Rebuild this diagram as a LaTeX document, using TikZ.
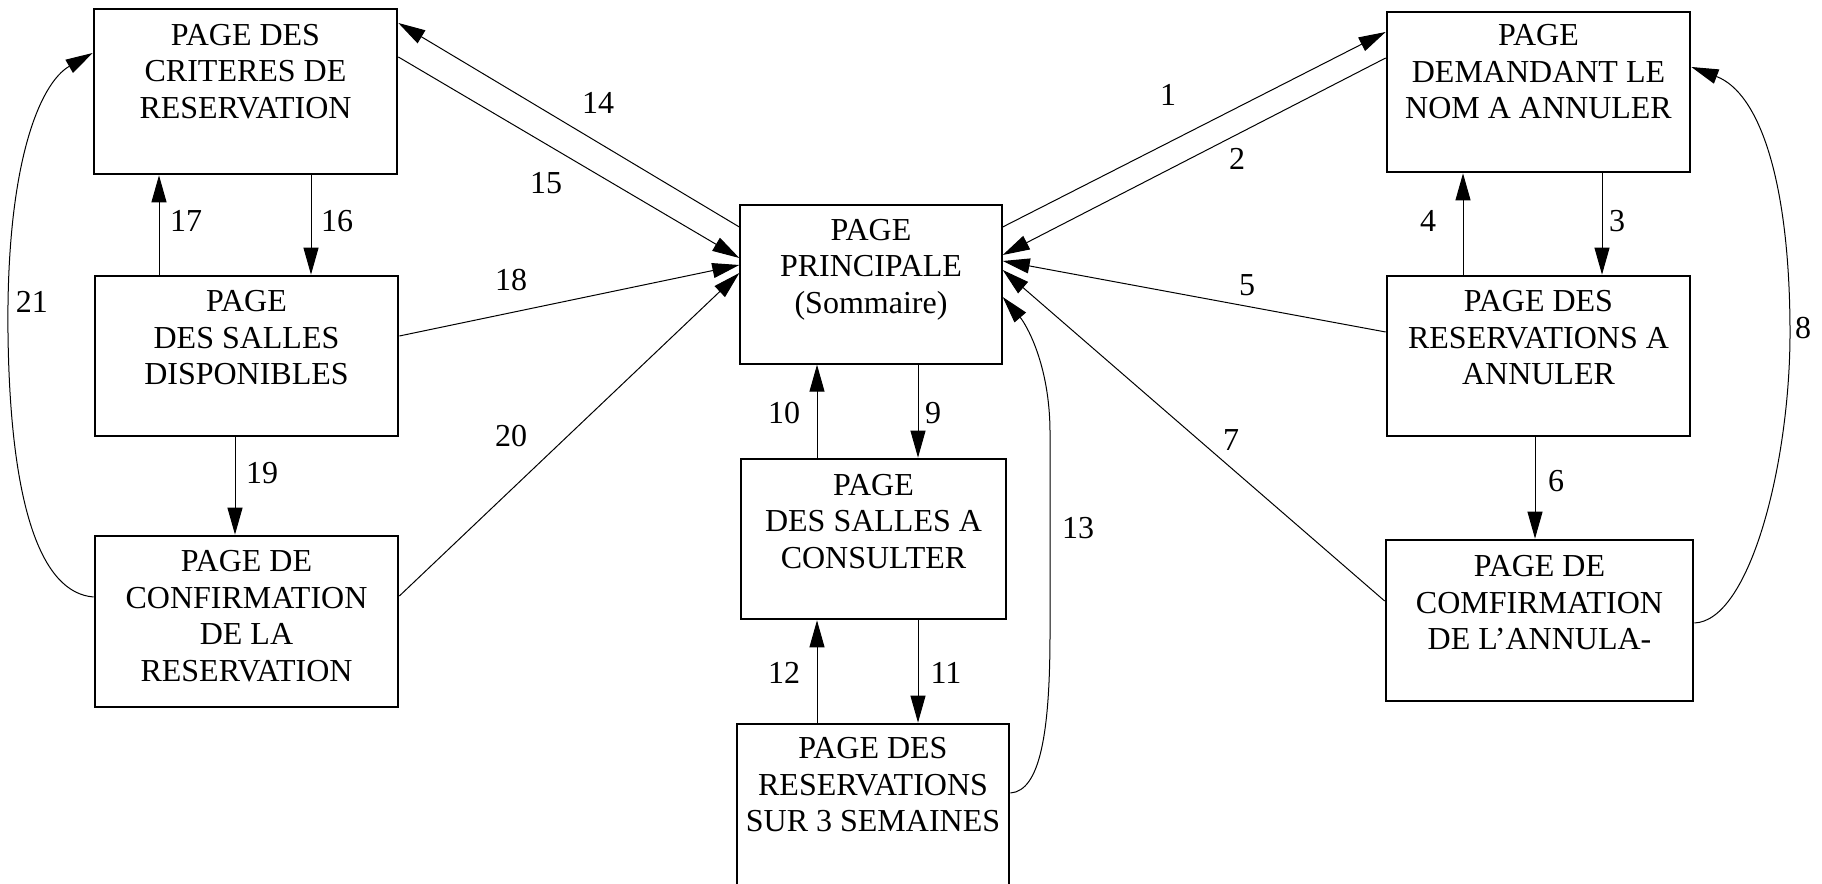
\documentclass[tikz,border=0pt]{standalone}
\usepackage{fontspec}
\setmainfont{Liberation Serif}
\usetikzlibrary{arrows.meta,calc}
\begin{document}
\begin{tikzpicture}[x=1pt,y=1pt,
  box/.style={draw, line width=2.7pt, inner sep=0pt},
  thinbox/.style={draw, line width=1.4pt, inner sep=0pt},
  txt/.style={align=center, inner sep=0pt, anchor=north, font=\fontsize{32}{36.5}\selectfont},
  arr/.style={line width=1pt, -{Triangle[length=27pt,width=15pt]}},
  lbl/.style={inner sep=0pt, font=\fontsize{32}{36.5}\selectfont}]
\useasboundingbox (0,0) rectangle (1822,883);
\clip (0,0) rectangle (1822,883);
\fill[white] (0,0) rectangle (1822,883);

% boxes
\node[box, minimum width=303pt, minimum height=165pt] (crit) at (245.5,791.5) {};
\node[box, minimum width=303pt, minimum height=160pt] (disp) at (246.5,527) {};
\node[box, minimum width=303pt, minimum height=171pt] (confres) at (246.5,261.5) {};
\node[thinbox, minimum width=262pt, minimum height=159pt] (princ) at (871,598.5) {};
\node[box, minimum width=265pt, minimum height=160pt] (consult) at (873.5,344) {};
\node[box, minimum width=272pt, minimum height=189pt] (sem) at (873,64.5) {};
\node[box, minimum width=303pt, minimum height=160pt] (demand) at (1538.5,791) {};
\node[box, minimum width=303pt, minimum height=160pt] (annul) at (1538.5,527) {};
\node[box, minimum width=307pt, minimum height=161pt] (confann) at (1539.5,262.5) {};

% texts
\node[txt] (tcrit) at ([yshift=-16pt]crit.north) {PAGE DES\\CRITERES DE\\RESERVATION};
\node[txt] (tdisp) at ([yshift=-15.5pt]disp.north) {PAGE\\DES SALLES\\DISPONIBLES};
\node[txt] (tconfres) at ([yshift=-15.5pt]confres.north) {PAGE DE\\CONFIRMATION\\DE LA\\RESERVATION};
\node[txt] (tprinc) at ([yshift=-14.5pt]princ.north) {PAGE\\PRINCIPALE\\(Sommaire)};
\node[txt] (tconsult) at ([yshift=-16pt]consult.north) {PAGE\\DES SALLES A\\CONSULTER};
\node[txt] (tsem) at ([yshift=-14.5pt]sem.north) {PAGE DES\\RESERVATIONS\\SUR 3 SEMAINES};
\node[txt] (tdemand) at ([yshift=-13.5pt]demand.north) {PAGE\\DEMANDANT LE\\NOM A ANNULER};
\node[txt] (tannul) at ([yshift=-15.5pt]annul.north) {PAGE DES\\RESERVATIONS A\\ANNULER};
\node[txt] (tconfann) at ([yshift=-16.5pt]confann.north) {PAGE DE\\COMFIRMATION\\DE L’ANNULA-};

% connectors
\draw[arr] (princ.east |- 0,656) -- (demand.west |- 0,851) node[lbl] at (1168,788) {1};
\draw[arr] (demand.west |- 0,825) -- (princ.east |- 0,628) node[lbl] at (1237,724) {2};
\draw[arr] (demand.south -| 1602,0) -- (annul.north -| 1602,0) node[lbl] at (1617,662) {3};
\draw[arr] (annul.north -| 1463,0) -- (demand.south -| 1463,0) node[lbl] at (1428,662) {4};
\draw[arr] (annul.west |- 0,551) -- (princ.east |- 0,622) node[lbl] at (1247,598) {5};
\draw[arr] (annul.south -| 1535,0) -- (confann.north -| 1535,0) node[lbl] at (1556,402) {6};
\draw[arr] (confann.west |- 0,282) -- (princ.east |- 0,613) node[lbl] at (1231,443) {7};
\draw[arr] (confann.east |- 0,260) .. controls (1750,262) and (1790,420) .. (1790,550)
  .. controls (1790,700) and (1760,790) .. (demand.east |- 0,816);
\node[lbl] (l8) at (1803,555) {8};
\draw[arr] (princ.south -| 918,0) -- (consult.north -| 918,0) node[lbl] at (933,470) {9};
\draw[arr] (consult.north -| 817,0) -- (princ.south -| 817,0) node[lbl] at (784,470) {10};
\draw[arr] (consult.south -| 918,0) -- (sem.north -| 918,0) node[lbl] at (946,210) {11};
\draw[arr] (sem.north -| 817,0) -- (consult.south -| 817,0) node[lbl] at (784,210) {12};
\draw[arr] (sem.east |- 0,90) .. controls (1040,92) and (1050,150) .. (1050,250) -- (1050,450)
  .. controls (1050,520) and (1025,560) .. (princ.east |- 0,586);
\node[lbl] (l13) at (1078,355) {13};
\draw[arr] (princ.west |- 0,656) -- (crit.east |- 0,860) node[lbl] at (598,780) {14};
\draw[arr] (crit.east |- 0,826) -- (princ.west |- 0,625) node[lbl] at (546,700) {15};
\draw[arr] (crit.south -| 311,0) -- (disp.north -| 311,0) node[lbl] at (337,662) {16};
\draw[arr] (disp.north -| 159,0) -- (crit.south -| 159,0) node[lbl] at (186,662) {17};
\draw[arr] (disp.east |- 0,547) -- (princ.west |- 0,618) node[lbl] at (511,603) {18};
\draw[arr] (disp.south -| 235,0) -- (confres.north -| 235,0) node[lbl] at (262,410) {19};
\draw[arr] (confres.east |- 0,287) -- (princ.west |- 0,610) node[lbl] at (511,447) {20};
\draw[arr] (confres.west |- 0,286) .. controls (40,290) and (10,380) .. (8,550)
  .. controls (6,720) and (40,800) .. (crit.west |- 0,830);
\node[lbl] (l21) at (32,581) {21};
\end{tikzpicture}
\end{document}
